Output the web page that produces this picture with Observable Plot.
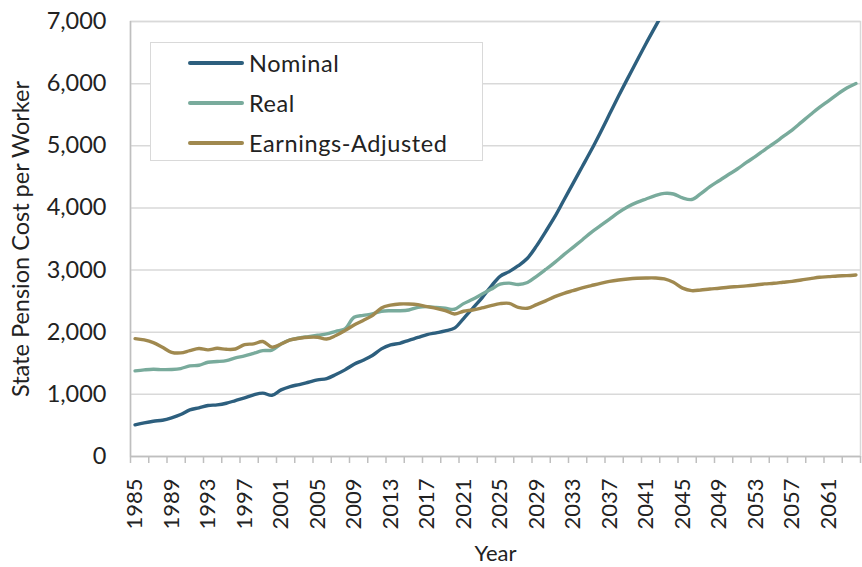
<!DOCTYPE html>
<html>
<head>
<meta charset="utf-8">
<script src="https://cdn.jsdelivr.net/npm/d3@7"></script>
<script src="https://cdn.jsdelivr.net/npm/@observablehq/plot@0.6"></script>
<style>
  body { margin: 0; background: white; }
  #wrap { position: relative; width: 862px; height: 567px; font-family: Lato, "Open Sans", sans-serif; color: #222; }
  #legend { position: absolute; left: 150px; top: 42px; width: 333px; height: 119px; border: 1.5px solid #d9d9d9; background: white; box-sizing: border-box; }
  .row { position: absolute; left: 37px; height: 30px; display: flex; align-items: center; font-size: 23.5px; letter-spacing: 0.6px; }
  .sw { width: 56px; height: 3.5px; margin-right: 5px; border-radius: 2px; }
</style>
</head>
<body>
<div id="wrap"><div id="chart"></div><div id="legend"></div></div>
<script>
const years = d3.range(1985, 2065);
const seriesNames = ["Nominal", "Real", "Earnings-Adjusted"];
const seriesColors = ["#2d5f7e", "#79ab9c", "#a0894f"];
const nominal = [
  510,542,568,584,622,675,750,783,820,831,
  857,900,943,992,1020,985,1072,1126,1158,1195,
  1233,1254,1319,1394,1485,1550,1625,1732,1796,1822,
  1870,1915,1962,1990,2020,2065,2220,2385,2550,2735,
  2900,2975,3070,3190,3390,3620,3859,4128,4395,4663,
  4931,5215,5510,5805,6089,6368,6647,6914,7180,7450
];
const real = [
  1378,1394,1404,1398,1400,1415,1458,1468,1516,1528,
  1544,1587,1619,1661,1704,1712,1811,1876,1908,1930,
  1951,1972,2015,2053,2240,2270,2294,2337,2345,2345,
  2358,2400,2412,2398,2385,2370,2460,2530,2610,2690,
  2772,2790,2768,2800,2900,3010,3124,3248,3366,3484,
  3607,3714,3821,3928,4020,4089,4144,4197,4234,4224,
  4160,4135,4230,4342,4438,4534,4626,4732,4829,4936,
  5038,5146,5253,5376,5499,5617,5724,5832,5929,6003
];
const earnings = [
  1897,1876,1833,1758,1677,1667,1704,1737,1716,1741,
  1725,1730,1801,1812,1850,1760,1811,1876,1903,1919,
  1919,1890,1946,2026,2117,2190,2267,2391,2435,2455,
  2455,2444,2412,2385,2348,2294,2337,2358,2391,2428,
  2460,2465,2400,2385,2444,2505,2573,2626,2669,2712,
  2750,2787,2819,2841,2857,2868,2873,2873,2857,2803,
  2710,2669,2680,2696,2707,2723,2734,2745,2760,2777,
  2787,2803,2819,2841,2862,2884,2894,2905,2910,2921
];
const yTicks = [0,1000,2000,3000,4000,5000,6000,7000];
const xLabelYears = d3.range(1985, 2062, 4);
const xTickPositions = d3.range(1984.5, 2065, 2);

const valuesBySeries = [nominal, real, earnings];
const data = [];
seriesNames.forEach((name, i) => {
  valuesBySeries[i].forEach((v, j) => data.push({series: name, year: years[j], value: v}));
});

const plot = Plot.plot({
  width: 862,
  height: 567,
  marginLeft: 130,
  marginRight: 2,
  marginTop: 21,
  marginBottom: 111,
  style: {fontFamily: "Lato, 'Open Sans', sans-serif", fontSize: "22px", color: "#222", background: "white"},
  x: {domain: [1984.5, 2064.5]},
  y: {domain: [0, 7000]},
  color: {domain: seriesNames, range: seriesColors},
  marks: [
    Plot.gridY(yTicks, {stroke: "#d9d9d9", strokeOpacity: 1, strokeWidth: 1.5}),
    Plot.frame({stroke: "#d9d9d9", strokeWidth: 1.5}),
    Plot.axisY(yTicks, {tickSize: 0, tickPadding: 24, tickFormat: d3.format(","), fontSize: 23.5,
      label: "State Pension Cost per Worker", labelAnchor: "center", labelOffset: 118, labelArrow: "none"}),
    Plot.axisX(xTickPositions, {tickSize: 7, stroke: "#bfbfbf", strokeWidth: 1.5, tickFormat: () => "", label: null}),
    Plot.axisX(xLabelYears, {tickSize: 0, tickRotate: -90, tickPadding: 22, tickFormat: d => String(d), fontSize: 22,
      label: "Year", labelAnchor: "center", labelOffset: 104, labelArrow: "none"}),
    Plot.ruleY([0], {stroke: "#bfbfbf", strokeWidth: 1.5}),
    Plot.ruleX([1984.5], {stroke: "#bfbfbf", strokeWidth: 1.5}),
    Plot.line(data, {x: "year", y: "value", z: "series", stroke: "series", strokeWidth: 3.4,
      curve: "catmull-rom", clip: true, strokeLinecap: "round", strokeLinejoin: "round"})
  ]
});
document.getElementById("chart").appendChild(plot);

const legend = document.getElementById("legend");
seriesNames.forEach((name, i) => {
  const row = document.createElement("div");
  row.className = "row";
  row.style.top = (5 + i * 40) + "px";
  const sw = document.createElement("div");
  sw.className = "sw";
  sw.style.background = seriesColors[i];
  row.appendChild(sw);
  const t = document.createElement("span");
  t.textContent = name;
  row.appendChild(t);
  legend.appendChild(row);
});
</script>
</body>
</html>
